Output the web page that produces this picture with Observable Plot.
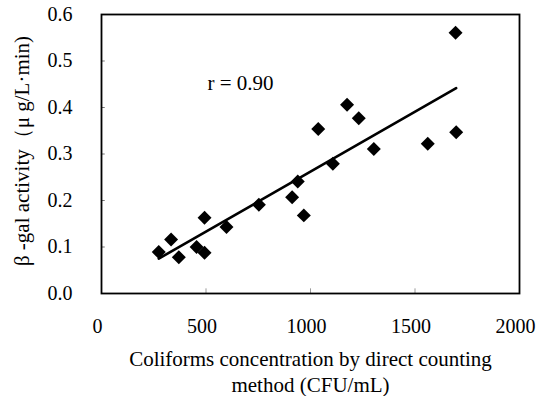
<!DOCTYPE html>
<html>
<head>
<meta charset="utf-8">
<script src="https://cdn.jsdelivr.net/npm/d3@7"></script>
<script src="https://cdn.jsdelivr.net/npm/@observablehq/plot@0.6"></script>
<style>
  html, body { margin: 0; padding: 0; background: #fff; }
  #chart svg { display: block; }
  #chart svg text { font-family: "Liberation Serif", "Times New Roman", serif; }
</style>
</head>
<body>
<div id="chart"></div>
<script>
// Observed points: coliform concentration (CFU/mL) vs β-gal activity (μg/L·min)
const coliforms = [1694, 1175, 1231, 1037, 1697, 1561, 1303, 1107, 939, 912, 968, 753, 598, 493, 333, 274, 370, 455, 493];
const activity  = [0.561, 0.406, 0.377, 0.354, 0.347, 0.322, 0.311, 0.279, 0.241, 0.207, 0.168, 0.191, 0.143, 0.163, 0.116, 0.089, 0.078, 0.100, 0.0875];

// Fitted trend line endpoints
const fitX = [274, 1697];
const fitY = [0.075, 0.4415];

const xTicks = [0, 500, 1000, 1500, 2000];
const yTicks = [0, 0.1, 0.2, 0.3, 0.4, 0.5, 0.6];

const rLabel = "r = 0.90";
const xLabel = "Coliforms concentration by direct counting\nmethod (CFU/mL)";
const yLabel = "β -gal activity（μ g/L·min)";

const points = coliforms.map((x, i) => ({x, y: activity[i]}));
const fit = fitX.map((x, i) => ({x, y: fitY[i]}));

const font = "'Liberation Serif', 'Times New Roman', serif";

const chart = Plot.plot({
  width: 553,
  height: 396,
  marginLeft: 101,
  marginRight: 34,
  marginTop: 14,
  marginBottom: 103,
  style: {fontFamily: font, fontSize: "20px", color: "#000", background: "#fff"},
  x: {domain: [0, 2000]},
  y: {domain: [0, 0.6]},
  marks: [
    Plot.ruleY(yTicks.slice(1, -1), {x1: 0, x2: 18, stroke: "#777", strokeWidth: 1}),
    Plot.ruleX(xTicks.slice(1, -1), {y1: 0, y2: 0.01, stroke: "#999", strokeWidth: 1}),
    Plot.frame({stroke: "#000", strokeWidth: 1.8}),
    Plot.axisX({ticks: xTicks, tickSize: 0, tickPadding: 25, dx: -4, label: null, tickFormat: d => String(d), fontSize: 20, fontFamily: font}),
    Plot.axisY({ticks: yTicks, tickSize: 0, tickPadding: 29, label: null, tickFormat: d3.format(".1f"), fontSize: 20, fontFamily: font}),
    Plot.line(fit, {x: "x", y: "y", stroke: "#000", strokeWidth: 2.6}),
    Plot.dot(points, {x: "x", y: "y", symbol: "diamond2", r: 6.3, fill: "#000", stroke: "none"}),
    Plot.text([rLabel], {frameAnchor: "top-left", dx: 106, dy: 61, textAnchor: "start", lineAnchor: "top", fontSize: 21, fontFamily: font}),
    Plot.text([xLabel], {frameAnchor: "bottom", dy: 77, textAnchor: "middle", lineAnchor: "middle", lineHeight: 1.22, fontSize: 21, fontFamily: font}),
    Plot.text([yLabel], {frameAnchor: "left", dx: -79, dy: -3, textAnchor: "middle", lineAnchor: "middle", rotate: -90, fontSize: 21, fontFamily: font})
  ]
});
document.getElementById("chart").appendChild(chart);
</script>
</body>
</html>
